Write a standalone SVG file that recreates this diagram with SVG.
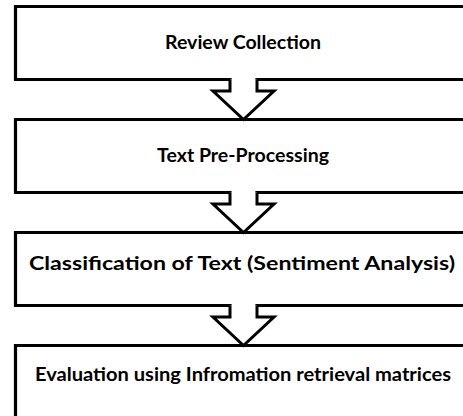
<svg xmlns="http://www.w3.org/2000/svg" width="463" height="416" viewBox="0 0 463 416">
<style>
.box{fill:none;stroke:#000;stroke-width:3.2;stroke-linecap:square;stroke-linejoin:miter}
.arr{fill:#fff;stroke:#000;stroke-width:3;stroke-linejoin:miter}
.lbl{font-family:Lato,"Open Sans","Liberation Sans",sans-serif;font-weight:700;font-size:18.5px;fill:#000;text-anchor:middle}
</style>
<rect width="463" height="416" fill="#fff"/>
<g id="node-review">
<path class="box" d="M257,79.5 H470 M230,79.5 H15.5 V6.5 H470"/>
<text class="lbl" x="243" y="49" textLength="156" lengthAdjust="spacingAndGlyphs">Review Collection</text>
</g>
<g id="node-preprocessing">
<path class="box" d="M257,192.5 H470 M230,192.5 H15.5 V119.5 H470"/>
<text class="lbl" x="243" y="162" textLength="172" lengthAdjust="spacingAndGlyphs">Text Pre-Processing</text>
</g>
<g id="node-classification">
<path class="box" d="M257,305.5 H470 M230,305.5 H15.5 V232.5 H470"/>
<text class="lbl" x="242" y="270" textLength="426" lengthAdjust="spacingAndGlyphs">Classification of Text (Sentiment Analysis)</text>
</g>
<g id="node-evaluation">
<path class="box" d="M15.5,430 V345.5 H470"/>
<text class="lbl" x="243" y="381" textLength="416" lengthAdjust="spacingAndGlyphs">Evaluation using Infromation retrieval matrices</text>
</g>
<g id="connectors">
<polyline class="arr" points="230,79.5 230,91 213,91 243.5,119.5 274,91 257,91 257,79.5"/>
<polyline class="arr" points="230,192.5 230,204 213,204 243.5,232.5 274,204 257,204 257,192.5"/>
<polyline class="arr" points="230,305.5 230,317 213,317 243.5,345.5 274,317 257,317 257,305.5"/>
</g>
</svg>
